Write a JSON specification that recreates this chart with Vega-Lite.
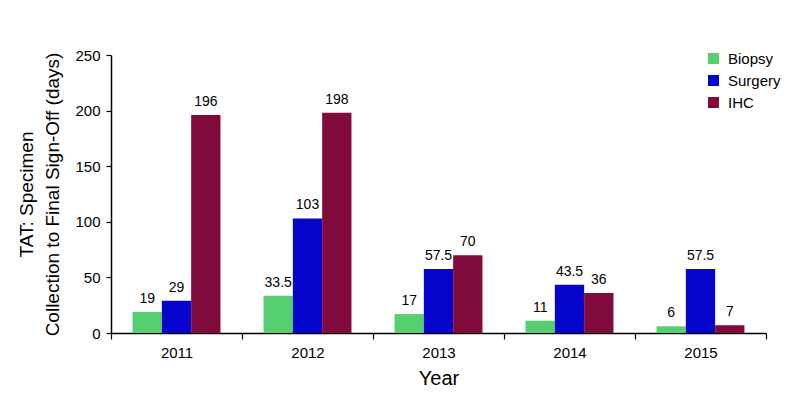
{
  "$schema": "https://vega.github.io/schema/vega-lite/v6.json",
  "width": 655,
  "height": 278,
  "autosize": {"type": "none"},
  "padding": {"left": 111, "top": 55, "right": 23, "bottom": 72},
  "background": "white",
  "config": {
    "view": {"stroke": null},
    "font": "Liberation Sans",
    "axis": {"domainColor": "#000", "tickColor": "#000", "labelColor": "#000", "titleColor": "#000", "grid": false, "titleFontWeight": "normal", "labelFont": "Liberation Sans", "titleFont": "Liberation Sans"}
  },
  "data": {
    "values": [
      {"year": "2011", "type": "Biopsy", "days": 19, "label": "19"},
      {"year": "2011", "type": "Surgery", "days": 29, "label": "29"},
      {"year": "2011", "type": "IHC", "days": 196, "label": "196"},
      {"year": "2012", "type": "Biopsy", "days": 33.5, "label": "33.5"},
      {"year": "2012", "type": "Surgery", "days": 103, "label": "103"},
      {"year": "2012", "type": "IHC", "days": 198, "label": "198"},
      {"year": "2013", "type": "Biopsy", "days": 17, "label": "17"},
      {"year": "2013", "type": "Surgery", "days": 57.5, "label": "57.5"},
      {"year": "2013", "type": "IHC", "days": 70, "label": "70"},
      {"year": "2014", "type": "Biopsy", "days": 11, "label": "11"},
      {"year": "2014", "type": "Surgery", "days": 43.5, "label": "43.5"},
      {"year": "2014", "type": "IHC", "days": 36, "label": "36"},
      {"year": "2015", "type": "Biopsy", "days": 6, "label": "6"},
      {"year": "2015", "type": "Surgery", "days": 57.5, "label": "57.5"},
      {"year": "2015", "type": "IHC", "days": 7, "label": "7"}
    ]
  },
  "encoding": {
    "x": {
      "field": "year", "type": "nominal",
      "scale": {"paddingInner": 0, "paddingOuter": 0},
      "axis": {"title": "Year", "labelAngle": 0, "labelFontSize": 15, "titleFontSize": 20, "tickBand": "extent", "tickSize": 6, "labelPadding": 6, "titlePadding": 8, "domainWidth": 1.5, "tickWidth": 1.2}
    },
    "xOffset": {
      "field": "type", "type": "nominal", "sort": ["Biopsy", "Surgery", "IHC"],
      "scale": {"paddingInner": 0, "paddingOuter": 0.735}
    },
    "y": {
      "field": "days", "type": "quantitative",
      "scale": {"domain": [0, 250], "nice": false},
      "axis": {"title": ["TAT: Specimen", "Collection to Final Sign-Off (days)"], "values": [0, 50, 100, 150, 200, 250], "labelFontSize": 15, "titleFontSize": 19, "titleLineHeight": 26, "tickSize": 5, "labelPadding": 6, "titlePadding": 12, "domainWidth": 1.5, "tickWidth": 1.2}
    }
  },
  "layer": [
    {
      "mark": {"type": "bar"},
      "encoding": {
        "color": {
          "field": "type", "type": "nominal", "sort": ["Biopsy", "Surgery", "IHC"],
          "scale": {"domain": ["Biopsy", "Surgery", "IHC"], "range": ["#55cf6f", "#0505cc", "#800a3b"]},
          "legend": {"title": null, "orient": "none", "legendX": 595, "legendY": -4, "symbolType": "square", "symbolSize": 121, "symbolStrokeWidth": 0, "labelFontSize": 15, "labelColor": "#000", "rowPadding": 6, "labelOffset": 7}
        }
      }
    },
    {
      "mark": {"type": "text", "baseline": "bottom", "dy": -6, "fontSize": 14, "color": "#000"},
      "encoding": {"text": {"field": "label"}}
    }
  ]
}
